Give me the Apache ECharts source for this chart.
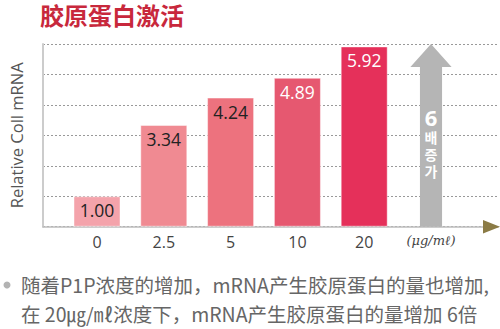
<!DOCTYPE html>
<html>
<head>
<meta charset="utf-8">
<script src="https://cdn.jsdelivr.net/npm/echarts@6/dist/echarts.min.js"></script>
<style>
  html, body { margin: 0; padding: 0; background: #fff; }
  #chart { width: 500px; height: 329px; }
</style>
</head>
<body>
<div id="chart"></div>
<script>
// P1P concentration (μg/mℓ) and relative collagen mRNA levels
const categories = ['0', '2.5', '5', '10', '20', '(μg/mℓ)'];
const values = [1.00, 3.34, 4.24, 4.89, 5.92];
const barColors = ['#f4a3ab', '#f08a92', '#ed727e', '#e65870', '#e5305a'];
const labelColors = ['#222', '#222', '#222', '#fff', '#fff'];
const foldValue = 6;           // fold increase shown by the grey arrow
const foldText = ['6', '배', '증', '가'];
const yTicks = [0, 1, 2, 3, 4, 5, 6];

const titleText = '胶原蛋白激活';
const yName = 'Relative Coll mRNA';
const noteLines = [
  '随着P1P浓度的增加，mRNA产生胶原蛋白的量也增加,',
  '在 20㎍/㎖浓度下，mRNA产生胶原蛋白的量增加 6倍'
];

const yMin = yTicks[0];
const yMax = yTicks[yTicks.length - 1];

const barData = values.map((v, i) => ({
  value: v,
  itemStyle: { color: barColors[i] },
  label: { color: labelColors[i] }
}));
const arrowData = categories.map((c, i) => (i === categories.length - 1 ? foldValue : '-'));

const chart = echarts.init(document.getElementById('chart'), null, { renderer: 'svg' });

chart.setOption({
  animation: false,
  title: {
    text: titleText,
    left: 40,
    top: 0,
    padding: 0,
    textStyle: {
      fontFamily: 'Noto Sans CJK SC',
      fontSize: 24,
      lineHeight: 28,
      fontWeight: 'bold',
      color: '#c8283c'
    }
  },
  grid: [
    { left: 41, right: 2, top: 44, bottom: 102.3 },
    { left: 63.6, right: 35.6, top: 44, bottom: 102.3 }
  ],
  xAxis: [
    {
      gridIndex: 0, type: 'value', min: 0, max: 1,
      axisLine: { show: true, lineStyle: { color: '#bdbdbd', width: 1.5 } },
      axisTick: { show: false }, axisLabel: { show: false }, splitLine: { show: false }
    },
    {
      gridIndex: 1, type: 'category', data: categories,
      axisLine: { show: false }, axisTick: { show: false },
      axisLabel: {
        interval: 0,
        margin: 7,
        fontFamily: 'Open Sans',
        fontSize: 16,
        color: '#444',
        formatter: (v, i) => (i === categories.length - 1 ? '{u|' + v + '}' : v),
        rich: {
          u: { fontFamily: 'DejaVu Serif', fontStyle: 'italic', fontSize: 13, color: '#444' }
        }
      }
    }
  ],
  yAxis: [
    {
      gridIndex: 0, type: 'value', min: yMin, max: yMax, interval: 1,
      offset: 13,
      axisLine: { show: true, lineStyle: { color: '#cccccc', width: 2 } },
      axisTick: { show: false }, axisLabel: { show: false },
      splitLine: { show: true, lineStyle: { color: '#999', width: 1, type: [2, 2] } },
      name: yName,
      nameLocation: 'middle',
      nameGap: 5,
      nameTextStyle: { fontFamily: 'Open Sans', fontSize: 16.5, color: '#555' }
    },
    {
      gridIndex: 1, type: 'value', min: yMin, max: yMax, show: false
    }
  ],
  series: [
    {
      type: 'bar',
      xAxisIndex: 1, yAxisIndex: 1,
      barWidth: 47,
      data: barData,
      itemStyle: { borderColor: 'rgba(255,255,255,0.45)', borderWidth: 1 },
      label: {
        show: true,
        position: 'insideTop',
        distance: 5,
        fontFamily: 'Open Sans',
        fontSize: 17.5,
        formatter: p => p.value.toFixed(2)
      },
      z: 3
    },
    {
      type: 'pictorialBar',
      xAxisIndex: 1, yAxisIndex: 1,
      symbol: 'path://M20.5 0 L41 23 L31.5 23 L31.5 183 L9.5 183 L9.5 23 L0 23 Z',
      symbolSize: [41, '100%'],
      symbolPosition: 'start',
      itemStyle: { color: '#b5b5b5' },
      data: arrowData,
      label: {
        show: true,
        position: 'inside',
        offset: [0, 7],
        formatter: () => '{a|' + foldText[0] + '}\n' + foldText.slice(1).map(t => '{b|' + t + '}').join('\n'),
        rich: {
          a: { fontFamily: 'Noto Sans', fontWeight: 'bold', fontSize: 22, lineHeight: 24, color: '#fff', align: 'center' },
          b: { fontFamily: 'Noto Sans CJK KR', fontWeight: 'bold', fontSize: 14, lineHeight: 17, color: '#fff', align: 'center' }
        }
      },
      z: 3
    }
  ],
  graphic: [
    {
      type: 'polygon',
      z: 100,
      shape: { points: [[483, 220], [500, 226.7], [483, 233.4]] },
      style: { fill: '#8b7b45' }
    },
    {
      type: 'circle',
      shape: { cx: 7, cy: 285, r: 3.5 },
      style: { fill: '#b3b3b3' }
    },
    {
      type: 'text',
      left: 21, top: 275,
      style: {
        text: noteLines[0],
        font: '19.5px "Noto Sans CJK SC"',
        fill: '#666'
      }
    },
    {
      type: 'text',
      left: 21, top: 304,
      style: {
        text: noteLines[1],
        font: '19.5px "Noto Sans CJK SC"',
        fill: '#666'
      }
    }
  ]
});
</script>
</body>
</html>
